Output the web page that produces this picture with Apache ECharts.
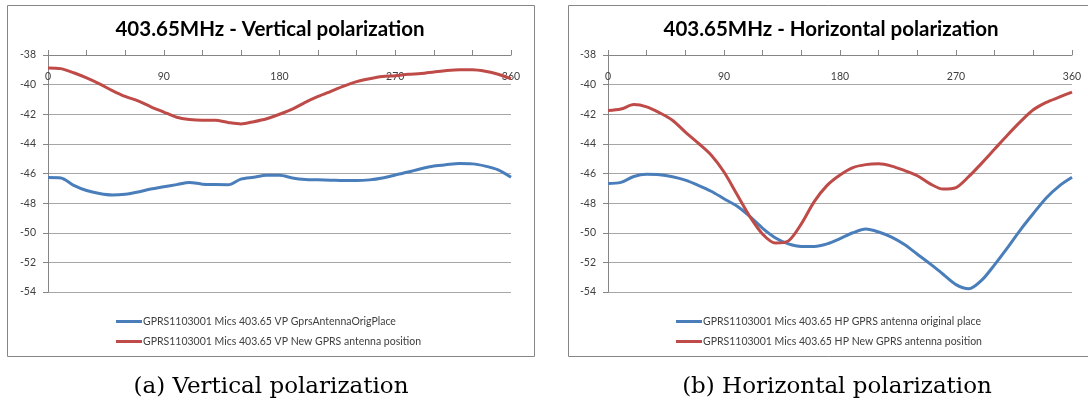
<!DOCTYPE html>
<html>
<head>
<meta charset="utf-8">
<script src="https://cdn.jsdelivr.net/npm/echarts@6/dist/echarts.min.js"></script>
<style>
  html, body { margin: 0; padding: 0; background: #fff; }
  #main { width: 1088px; height: 406px; }
</style>
</head>
<body>
<div id="main"></div>
<script>
// angle of the measurement, degrees
var angles = [0, 10, 20, 30, 40, 50, 60, 70, 80, 90, 100, 110, 120, 130, 140, 150, 160, 170, 180,
              190, 200, 210, 220, 230, 240, 250, 260, 270, 280, 290, 300, 310, 320, 330, 340, 350, 360];

// vertical polarization
var vpOrig = [-46.27, -46.3, -46.8, -47.15, -47.35, -47.45, -47.4, -47.25, -47.05, -46.9, -46.75, -46.6, -46.72, -46.75, -46.76, -46.38, -46.25, -46.12, -46.12,
              -46.3, -46.4, -46.42, -46.45, -46.48, -46.48, -46.43, -46.3, -46.1, -45.9, -45.68, -45.5, -45.4, -45.33, -45.35, -45.5, -45.75, -46.25];
var vpNew = [-38.87, -38.92, -39.2, -39.55, -39.95, -40.4, -40.8, -41.1, -41.5, -41.85, -42.2, -42.35, -42.4, -42.4, -42.55, -42.65, -42.5, -42.3, -42.0,
             -41.65, -41.2, -40.8, -40.45, -40.1, -39.8, -39.6, -39.45, -39.4, -39.3, -39.25, -39.15, -39.05, -39.0, -39.0, -39.1, -39.3, -39.6];

// horizontal polarization
var hpOrig = [-46.67, -46.6, -46.2, -46.05, -46.08, -46.22, -46.45, -46.8, -47.2, -47.7, -48.2, -48.9, -49.7, -50.35, -50.75, -50.92, -50.92, -50.75, -50.4,
              -50.0, -49.75, -49.95, -50.3, -50.8, -51.45, -52.1, -52.8, -53.5, -53.78, -53.2, -52.15, -51.0, -49.8, -48.7, -47.65, -46.85, -46.26];
var hpNew = [-41.75, -41.65, -41.35, -41.5, -41.9, -42.4, -43.2, -43.95, -44.75, -45.9, -47.4, -48.9, -50.1, -50.7, -50.55, -49.4, -47.9, -46.8, -46.1,
             -45.6, -45.4, -45.35, -45.5, -45.8, -46.15, -46.7, -47.05, -46.95, -46.2, -45.3, -44.35, -43.4, -42.5, -41.7, -41.2, -40.85, -40.5];

var names = {
  vpOrig: 'GPRS1103001 Mics 403.65 VP GprsAntennaOrigPlace',
  vpNew: 'GPRS1103001 Mics 403.65 VP New GPRS antenna position',
  hpOrig: 'GPRS1103001 Mics 403.65 HP GPRS antenna original place',
  hpNew: 'GPRS1103001 Mics 403.65 HP New GPRS antenna position'
};

var blue = '#4a7ebb';
var red = '#be4b48';
var labelFont = 'Lato, "Liberation Sans", sans-serif';

function pairs(vals) {
  return angles.map(function (a, i) { return [a, vals[i]]; });
}

function xAxis(idx) {
  return {
    type: 'value', gridIndex: idx, position: 'top',
    min: 0, max: 360, interval: 30,
    axisLine: { show: true, lineStyle: { color: '#868686', width: 1 } },
    axisTick: { show: true, inside: false, length: 5, lineStyle: { color: '#868686' } },
    axisLabel: {
      inside: true, margin: 16, color: '#404040', fontSize: 10.5, fontFamily: labelFont,
      formatter: function (v) { return v % 90 === 0 ? v : ''; }
    },
    splitLine: { show: false }
  };
}

function yAxis(idx) {
  return {
    type: 'value', gridIndex: idx,
    min: -54, max: -38, interval: 2,
    axisLine: { show: true, lineStyle: { color: '#868686', width: 1 } },
    axisTick: { show: true, length: 5, lineStyle: { color: '#868686' } },
    axisLabel: { margin: 12, color: '#404040', fontSize: 10.5, fontFamily: labelFont },
    splitLine: { show: true, lineStyle: { color: '#a6a6a6', width: 1 } }
  };
}

function line(name, vals, idx, color) {
  return {
    name: name, type: 'line', xAxisIndex: idx, yAxisIndex: idx,
    data: pairs(vals), showSymbol: false, smooth: 0.3,
    lineStyle: { color: color, width: 3 }, itemStyle: { color: color },
    animation: false
  };
}

function legend(left, items) {
  return {
    orient: 'vertical', left: left, top: 311, itemGap: 9,
    icon: 'rect', itemWidth: 26, itemHeight: 3,
    textStyle: { color: '#404040', fontSize: 10.5, fontFamily: labelFont, padding: [0, 0, 0, -4] },
    data: items
  };
}

var chart = echarts.init(document.getElementById('main'));
chart.setOption({
  animation: false,
  grid: [
    { left: 48, top: 55, width: 463, height: 237 },
    { left: 608, top: 55, width: 464, height: 237 }
  ],
  xAxis: [xAxis(0), xAxis(1)],
  yAxis: [yAxis(0), yAxis(1)],
  legend: [
    legend(111, [names.vpOrig, names.vpNew]),
    legend(671, [names.hpOrig, names.hpNew])
  ],
  series: [
    line(names.vpOrig, vpOrig, 0, blue),
    line(names.vpNew, vpNew, 0, red),
    line(names.hpOrig, hpOrig, 1, blue),
    line(names.hpNew, hpNew, 1, red)
  ],
  graphic: [
    { type: 'rect', shape: { x: 7.5, y: 5.5, width: 527, height: 351 }, style: { fill: 'none', stroke: '#868686', lineWidth: 1 }, silent: true },
    { type: 'rect', shape: { x: 568.5, y: 5.5, width: 527, height: 351 }, style: { fill: 'none', stroke: '#868686', lineWidth: 1 }, silent: true },
    { type: 'text', x: 270, y: 29, style: { text: '403.65MHz - Vertical polarization', align: 'center', verticalAlign: 'middle', font: 'bold 20.5px Lato, sans-serif', fill: '#000' } },
    { type: 'text', x: 831, y: 29, style: { text: '403.65MHz - Horizontal polarization', align: 'center', verticalAlign: 'middle', font: 'bold 20.5px Lato, sans-serif', fill: '#000' } },
    { type: 'text', x: 271, y: 387, style: { text: '(a) Vertical polarization', align: 'center', verticalAlign: 'middle', font: '23px "DejaVu Serif", serif', fill: '#000' } },
    { type: 'text', x: 837, y: 387, style: { text: '(b) Horizontal polarization', align: 'center', verticalAlign: 'middle', font: '23px "DejaVu Serif", serif', fill: '#000' } }
  ]
});
</script>
</body>
</html>
